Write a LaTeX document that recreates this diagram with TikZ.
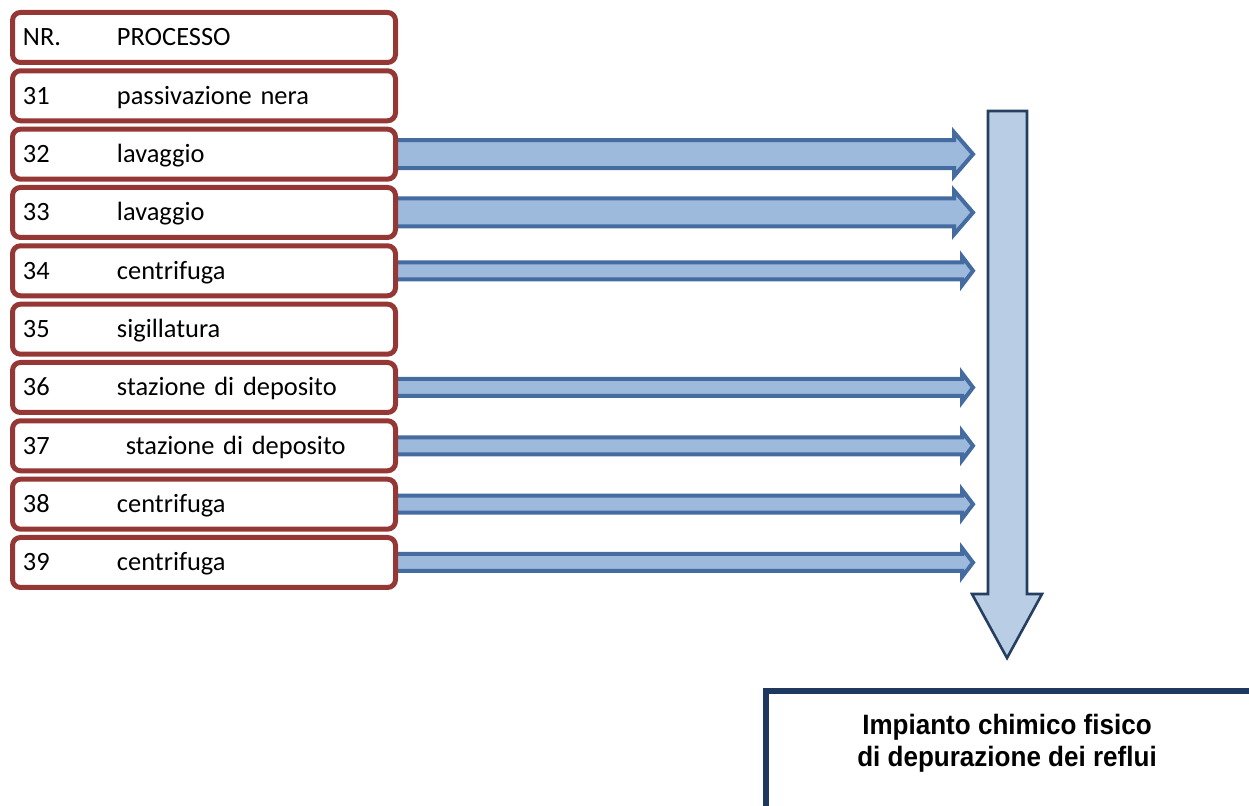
\documentclass[tikz,border=0pt]{standalone}
\usepackage{fontspec}
\setmainfont{Carlito}
\newfontfamily\arialfont{Liberation Sans}
\usetikzlibrary{backgrounds}

\definecolor{boxred}{RGB}{149,55,53}
\definecolor{arrowline}{RGB}{68,108,160}
\definecolor{arrowfill}{RGB}{157,185,220}
\definecolor{downfill}{RGB}{185,205,229}
\definecolor{downline}{RGB}{36,63,96}
\definecolor{plantline}{RGB}{31,56,95}

\tikzset{
  procbox/.style={draw=boxred, line width=2.5pt, rounded corners=4pt, fill=white,
    minimum height=25pt, text width=181pt, align=left, inner xsep=5.25pt, inner ysep=0pt,
    text height=8.5pt, text depth=0pt, anchor=west, outer sep=0pt,
    font=\fontsize{13.2}{16}\selectfont},
  flowarrow/.style={draw=arrowline, fill=arrowfill, line width=2pt, line join=miter},
  downarrow/.style={draw=downline, fill=downfill, line width=1.3pt, line join=miter},
  plantframe/.style={draw=plantline, line width=3pt},
  planttext/.style={align=center, inner sep=0pt, transform shape,
    font=\arialfont\bfseries\fontsize{14}{16}\selectfont}
}

\begin{document}
\begin{tikzpicture}[x=0.5pt, y=-0.5pt]
  \newcommand\bx{12.5}
  \newcommand\col[1]{\makebox[47pt][l]{#1}}
  % wide and slim block arrows, from a box to the collector
  \newcommand\widearrow[1]{\draw[flowarrow, shift={(#1.east)}]
    (-8,-14) -- (558.5,-14) -- (558.5,-22) -- (577.5,0) -- (558.5,22) -- (558.5,14) -- (-8,14) -- cycle;}
  \newcommand\slimarrow[1]{\draw[flowarrow, shift={(#1.east)}]
    (-8,-8.5) -- (566.5,-8.5) -- (566.5,-14.5) -- (577.5,0) -- (566.5,14.5) -- (566.5,8.5) -- (-8,8.5) -- cycle;}

  \useasboundingbox (0,0) rectangle (1249,806);
  \clip (0,0) rectangle (1249,806);

  \node[procbox] (head) at (\bx,37.5) {\col{NR.}PROCESSO};
  \node[procbox] (p31) at (\bx,95.8) {\col{31}passivazione nera};
  \node[procbox] (p32) at (\bx,154.2) {\col{32}lavaggio};
  \node[procbox] (p33) at (\bx,212.5) {\col{33}lavaggio};
  \node[procbox] (p34) at (\bx,270.8) {\col{34}centrifuga};
  \node[procbox] (p35) at (\bx,329.2) {\col{35}sigillatura};
  \node[procbox] (p36) at (\bx,387.5) {\col{36}stazione di deposito};
  \node[procbox] (p37) at (\bx,445.8) {\col{37}\ stazione di deposito};
  \node[procbox] (p38) at (\bx,504.2) {\col{38}centrifuga};
  \node[procbox] (p39) at (\bx,562.5) {\col{39}centrifuga};

  \begin{scope}[on background layer]
    \widearrow{p32}
    \widearrow{p33}
    \slimarrow{p34}
    \slimarrow{p36}
    \slimarrow{p37}
    \slimarrow{p38}
    \slimarrow{p39}
  \end{scope}

  % collector arrow
  \draw[downarrow] (988,111) -- (1027,111) -- (1027,594) -- (1042,594) -- (1007,658)
    -- (972,594) -- (988,594) -- cycle;

  \draw[plantframe] (766,691.5) rectangle (1320,880);
  \begin{scope}[shift={(1007,743.5)}, xscale=0.93]
    \node[planttext] (plant) at (0,0) {Impianto chimico fisico\\di depurazione dei reflui};
  \end{scope}
\end{tikzpicture}
\end{document}
